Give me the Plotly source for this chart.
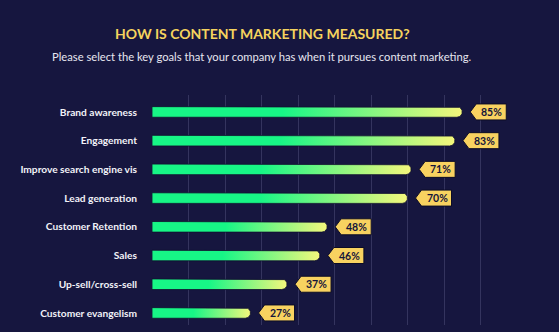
import numpy as np
import plotly.graph_objects as go

# Survey results: share of companies naming each goal
categories = [
    "Brand awareness",
    "Engagement",
    "Improve search engine vis",
    "Lead generation",
    "Customer Retention",
    "Sales",
    "Up-sell/cross-sell",
    "Customer evangelism",
]
values = [85, 83, 71, 70, 48, 46, 37, 27]

title_text = "HOW IS CONTENT MARKETING MEASURED?"
subtitle_text = "Please select the key goals that your company has when it pursues content marketing."

BG = "#16163f"
GRID = "#34345e"
BADGE = "#f8d260"
DARK = "#15153a"
FONT = "Lato"

W, H = 559, 332
M = dict(l=152, r=42, t=95, b=7)
X_RANGE = [0, 100]
Y_RANGE = [7.42, -0.59]

px_per_x = (W - M["l"] - M["r"]) / (X_RANGE[1] - X_RANGE[0])
px_per_y = (H - M["t"] - M["b"]) / abs(Y_RANGE[0] - Y_RANGE[1])

bar_half_px = 5.3
half_h = bar_half_px / px_per_y
rx = bar_half_px / px_per_x

fig = go.Figure()

# Each bar: flat left end, rounded right cap, horizontal green->yellow gradient
theta = np.linspace(-np.pi / 2, np.pi / 2, 25)
for i, v in enumerate(values):
    cx = v - rx
    xs = [0, cx] + list(cx + rx * np.cos(theta)) + [cx, 0, 0]
    ys = [i - half_h, i - half_h] + list(i + half_h * np.sin(theta)) + [i + half_h, i + half_h, i - half_h]
    fig.add_trace(go.Scatter(
        x=xs, y=ys, mode="lines", fill="toself",
        line=dict(color="#10102e", width=0.8),
        fillgradient=dict(
            type="horizontal",
            colorscale=[[0, "#17f686"], [0.42, "#17f686"], [1, "#f4f77c"]],
        ),
        hoverinfo="skip", showlegend=False,
    ))

# Value badges: arrow-shaped tags anchored at the bar end
tip, left, right, hh = 8, 14, 44, 8
badge_path = (f"M {tip},0 L {left},{hh} L {right},{hh} L {right},{-hh} "
              f"L {left},{-hh} Z")
for i, v in enumerate(values):
    fig.add_shape(
        type="path", path=badge_path,
        xref="x", yref="y", xsizemode="pixel", ysizemode="pixel",
        xanchor=v, yanchor=i,
        fillcolor=BADGE, line=dict(color="#0c0c26", width=1), layer="above",
    )
    fig.add_annotation(
        x=v, y=i, xref="x", yref="y", xshift=(left + right) / 2 + 0.5,
        text=f"<b>{v}%</b>", showarrow=False,
        font=dict(family=FONT, size=10.5, color=DARK),
    )

fig.add_annotation(
    xref="paper", yref="paper",
    x=(262 - M["l"]) / (W - M["l"] - M["r"]),
    y=1 + (M["t"] - 33) / (H - M["t"] - M["b"]),
    text=f"<b>{title_text}</b>", showarrow=False,
    xanchor="center", yanchor="middle",
    font=dict(family=FONT, size=14, color="#f5d35e"),
)
fig.add_annotation(
    xref="paper", yref="paper",
    x=(262 - M["l"]) / (W - M["l"] - M["r"]),
    y=1 + (M["t"] - 56) / (H - M["t"] - M["b"]),
    text=subtitle_text, showarrow=False,
    xanchor="center", yanchor="middle",
    font=dict(family=FONT, size=11.2, color="#e6e6f0"),
)

fig.update_layout(
    width=W, height=H, margin=M,
    paper_bgcolor=BG, plot_bgcolor=BG,
    xaxis=dict(
        range=X_RANGE, dtick=10, tick0=0, showgrid=True,
        gridcolor=GRID, gridwidth=1, zeroline=False,
        showticklabels=False, showline=False, fixedrange=True,
    ),
    yaxis=dict(
        range=Y_RANGE, tickvals=list(range(len(categories))),
        ticktext=[f"<b>{c}</b>" for c in categories],
        showgrid=False, zeroline=False, showline=False,
        ticks="", ticklabelstandoff=14,
        tickfont=dict(family=FONT, size=10.2, color="#f2f2f8"),
        fixedrange=True,
    ),
    showlegend=False,
)

fig.write_html("out.html")
